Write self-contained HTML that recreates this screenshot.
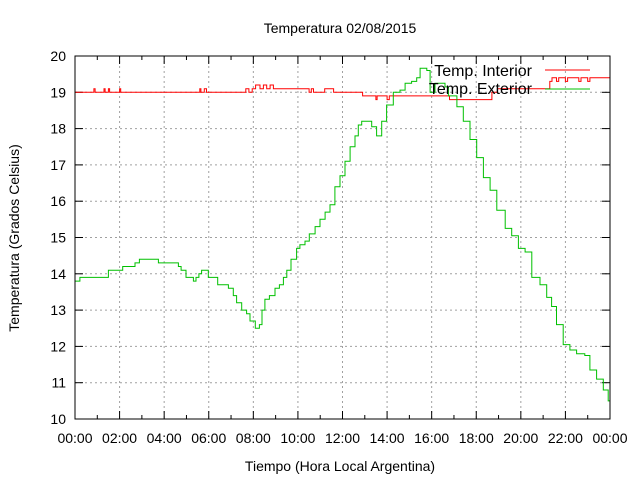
<!DOCTYPE html>
<html><head><meta charset="utf-8"><style>
body{margin:0;background:#fff}
svg{display:block;font-family:"Liberation Sans",sans-serif}
</style></head><body>
<svg id="chart" width="640" height="480" viewBox="0 0 640 480">
<g id="grid"></g>
<g id="axes"></g>
<path id="sInt" fill="none" stroke="#ff0000" stroke-width="1"></path>
<path id="sExt" fill="none" stroke="#00c000" stroke-width="1"></path>
<rect x="75" y="56" width="535" height="363" fill="none" stroke="#000"/>
<text x="340" y="33" text-anchor="middle" font-size="14">Temperatura 02/08/2015</text>
<text x="340" y="471" text-anchor="middle" font-size="14">Tiempo (Hora Local Argentina)</text>
<text transform="translate(19,238) rotate(-90)" text-anchor="middle" font-size="14">Temperatura (Grados Celsius)</text>
<g>
<text x="532" y="76" text-anchor="end" font-size="16">Temp. Interior</text>
<line x1="545" y1="70" x2="590" y2="70" stroke="#ff0000"/>
<text x="532" y="94" text-anchor="end" font-size="16">Temp. Exterior</text>
<line x1="545" y1="89" x2="590" y2="89" stroke="#00c000"/>
</g>
</svg>
<script>
const yTicks=[10,11,12,13,14,15,16,17,18,19,20];
const xTickHours=[0,2,4,6,8,10,12,14,16,18,20,22,24];
const xTickLabels=["00:00","02:00","04:00","06:00","08:00","10:00","12:00","14:00","16:00","18:00","20:00","22:00","00:00"];
const extHours=[0,0.22,1.5,2.14,2.69,2.89,3.74,4.64,4.76,4.98,5.31,5.43,5.56,5.68,5.98,6.4,6.88,7.1,7.25,7.48,7.7,7.85,8.09,8.27,8.39,8.52,8.72,8.97,9.17,9.35,9.5,9.69,9.94,10.09,10.32,10.51,10.77,10.99,11.22,11.44,11.66,11.89,12.11,12.34,12.56,12.71,12.86,13.31,13.53,13.76,13.98,14.28,14.58,14.81,15.1,15.33,15.48,15.78,15.93,16.15,16.6,16.75,17.13,17.42,17.72,18.02,18.32,18.62,18.92,19.3,19.59,19.89,20.19,20.49,20.86,21.16,21.38,21.6,21.9,22.2,22.5,22.87,23.1,23.4,23.7,23.92,24];
const extTemps=[13.8,13.9,14.1,14.2,14.3,14.4,14.3,14.2,14.1,13.9,13.8,13.9,14.0,14.1,13.9,13.7,13.6,13.4,13.2,13.0,12.9,12.7,12.5,12.6,13.0,13.3,13.4,13.6,13.7,13.9,14.1,14.4,14.7,14.8,14.9,15.1,15.3,15.5,15.7,15.9,16.4,16.7,17.1,17.5,17.8,18.1,18.2,18.05,17.8,18.2,18.65,19.0,19.06,19.25,19.3,19.4,19.66,19.6,19.0,19.25,19.15,18.9,18.6,18.2,17.7,17.2,16.65,16.3,15.75,15.25,15.05,14.7,14.6,13.9,13.7,13.35,13.1,12.6,12.05,11.9,11.8,11.75,11.35,11.1,10.8,10.5,10.5];
const intHours=[0,0.85,0.9,1.3,1.35,1.5,1.55,2.0,2.05,5.6,5.65,5.8,5.9,7.66,7.8,7.95,8.1,8.3,8.45,8.6,8.75,8.9,10.5,10.6,10.7,11.2,11.6,12.9,13.5,13.55,14.0,14.1,16.8,18.7,18.95,21.3,21.4,21.6,21.7,22.0,22.1,22.6,22.7,23.0,23.1,23.4,24];
const intTemps=[19.0,19.1,19.0,19.1,19.0,19.1,19.0,19.1,19.0,19.1,19.0,19.1,19.0,19.1,19.0,19.1,19.2,19.1,19.2,19.1,19.2,19.1,19.0,19.1,19.0,19.1,19.0,18.9,18.8,18.9,18.8,18.9,18.8,19.0,19.1,19.3,19.4,19.3,19.4,19.3,19.4,19.3,19.4,19.3,19.4,19.4,19.4];
const X0=75,X1=610,Y0=419,Y1=56;
const xs=h=>X0+(X1-X0)*h/24;
const ys=t=>Y0-(Y0-Y1)*(t-10)/10;
const NS="http://www.w3.org/2000/svg";
const grid=document.getElementById('grid'),axes=document.getElementById('axes');
function ln(g,x1,y1,x2,y2,st,dash){const l=document.createElementNS(NS,'line');l.setAttribute('x1',x1);l.setAttribute('y1',y1);l.setAttribute('x2',x2);l.setAttribute('y2',y2);l.setAttribute('stroke',st);if(dash)l.setAttribute('stroke-dasharray',dash);g.appendChild(l);return l;}
function tx(x,y,s,anchor){const t=document.createElementNS(NS,'text');t.setAttribute('x',x);t.setAttribute('y',y);t.setAttribute('text-anchor',anchor);t.setAttribute('font-size','14');t.textContent=s;axes.appendChild(t);return t;}
yTicks.forEach(v=>{const y=ys(v);
 if(v>10&&v<20){const g=ln(grid,X0,y,X1,y,'#a0a0a0','2,3');
 
 }
 const a=ln(axes,X0,y,X0+8,y,'#000');
 
 
 ln(axes,X1-8,y,X1,y,'#000');
 const t=tx(X0-9,y+5,String(v),'end');
 
 });
xTickHours.forEach((h,i)=>{const x=xs(h);
 if(h>0&&h<24){const g=ln(grid,x,Y1,x,Y0,'#a0a0a0','2,3');
 
 }
 ln(axes,x,Y0,x,Y0-8,'#000');ln(axes,x,Y1,x,Y1+8,'#000');
 if(h<24){ln(axes,xs(h+1),Y0,xs(h+1),Y0-4,'#000');ln(axes,xs(h+1),Y1,xs(h+1),Y1+4,'#000');}
 const t=tx(x,Y0+24,xTickLabels[i],'middle');
 
 });
function step(hs,ts){let d='M'+xs(hs[0]).toFixed(1)+' '+ys(ts[0]).toFixed(1);
 for(let i=1;i<hs.length;i++){d+=' H'+xs(hs[i]).toFixed(1)+' V'+ys(ts[i]).toFixed(1);}return d;}
document.getElementById('sExt').setAttribute('d',step(extHours,extTemps));
document.getElementById('sInt').setAttribute('d',step(intHours,intTemps));
</script>
</body></html>
